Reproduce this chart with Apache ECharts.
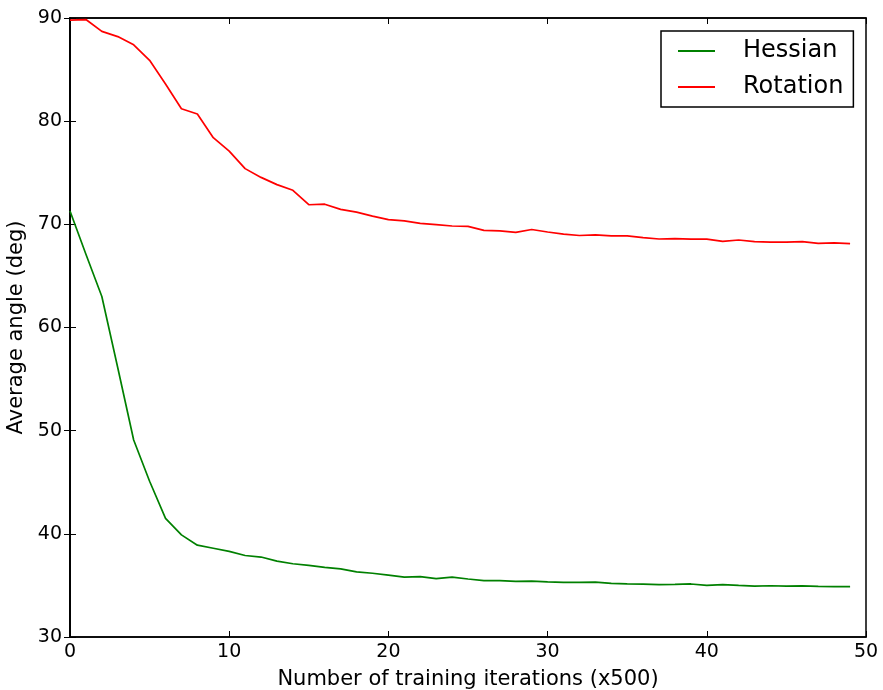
<!DOCTYPE html>
<html>
<head>
<meta charset="utf-8">
<script src="https://cdn.jsdelivr.net/npm/echarts@6/dist/echarts.min.js"></script>
<style>html,body{margin:0;padding:0;background:#fff}#c{width:883px;height:690px}</style>
</head>
<body>
<div id="c"></div>
<script>
const iterations = [0,1,2,3,4,5,6,7,8,9,10,11,12,13,14,15,16,17,18,19,20,21,22,23,24,25,26,27,28,29,30,31,32,33,34,35,36,37,38,39,40,41,42,43,44,45,46,47,48,49];
const hessian = [71.3,67.1,63.0,56.1,49.1,45.1,41.5,39.9,38.9,38.6,38.3,37.9,37.75,37.35,37.1,36.95,36.75,36.6,36.32,36.18,36.0,35.8,35.85,35.65,35.8,35.62,35.47,35.46,35.4,35.42,35.35,35.29,35.29,35.32,35.2,35.14,35.12,35.07,35.1,35.14,35.0,35.07,35.0,34.94,34.97,34.94,34.96,34.9,34.88,34.88];
const rotation = [89.8,89.85,88.7,88.2,87.4,85.9,83.6,81.2,80.7,78.4,77.1,75.4,74.55,73.85,73.3,71.9,71.95,71.45,71.18,70.8,70.45,70.33,70.1,69.97,69.84,69.8,69.42,69.36,69.22,69.5,69.26,69.05,68.92,68.97,68.88,68.88,68.72,68.58,68.62,68.57,68.57,68.35,68.48,68.32,68.28,68.28,68.33,68.15,68.2,68.13];
const xTicks = [0,10,20,30,40,50];
const yTicks = [30,40,50,60,70,80,90];

const font = 'DejaVu Sans';
const chart = echarts.init(document.getElementById('c'));
const tickStyle = {show:true, inside:true, length:6, lineStyle:{color:'#000', width:1}};
chart.setOption({
  animation:false,
  backgroundColor:'#fff',
  textStyle:{fontFamily:font},
  grid:{left:70, right:17, top:18, bottom:53, containLabel:false, outerBoundsMode:'none',
        show:true, borderColor:'#000', borderWidth:1.5, backgroundColor:'transparent'},
  legend:{
    left:661, top:31, orient:'vertical',
    data:['Hessian','Rotation'],
    icon:'rect',
    borderColor:'#000', borderWidth:1.5, borderRadius:0,
    padding:[6,5,6,17],
    itemWidth:37, itemHeight:2, itemGap:8,
    textStyle:{fontFamily:font, fontSize:24, color:'#000', padding:[0,5,0,23], lineHeight:28}
  },
  xAxis:[
    {type:'value', min:0, max:50, interval:10, position:'bottom',
     name:'Number of training iterations (x500)', nameLocation:'middle', nameGap:32,
     nameTextStyle:{fontFamily:font, fontSize:21, color:'#000'},
     axisLine:{show:true, lineStyle:{color:'#000', width:1.5}},
     axisTick:tickStyle, splitLine:{show:false},
     axisLabel:{fontFamily:font, fontSize:19, color:'#000', margin:6,
       formatter:v=>xTicks.includes(v)?String(v):''}},
    {type:'value', min:0, max:50, interval:10, position:'top',
     axisLine:{show:true, lineStyle:{color:'#000', width:1.5}},
     axisTick:tickStyle, axisLabel:{show:false}, splitLine:{show:false}}
  ],
  yAxis:[
    {type:'value', min:30, max:90, interval:10, position:'left',
     name:'Average angle (deg)', nameLocation:'middle', nameGap:41,
     nameTextStyle:{fontFamily:font, fontSize:21, color:'#000'},
     axisLine:{show:true, lineStyle:{color:'#000', width:1.5}},
     axisTick:tickStyle, splitLine:{show:false},
     axisLabel:{fontFamily:font, fontSize:19, color:'#000', margin:8,
       formatter:v=>yTicks.includes(v)?String(v):''}},
    {type:'value', min:30, max:90, interval:10, position:'right',
     axisLine:{show:true, lineStyle:{color:'#000', width:1.5}},
     axisTick:tickStyle, axisLabel:{show:false}, splitLine:{show:false}}
  ],
  series:[
    {name:'Hessian', type:'line', symbol:'none', color:'#008000',
     lineStyle:{color:'#008000', width:1.7},
     data:iterations.map((x,i)=>[x,hessian[i]])},
    {name:'Rotation', type:'line', symbol:'none', color:'#ff0000',
     lineStyle:{color:'#ff0000', width:1.7},
     data:iterations.map((x,i)=>[x,rotation[i]])}
  ]
});
</script>
</body>
</html>
